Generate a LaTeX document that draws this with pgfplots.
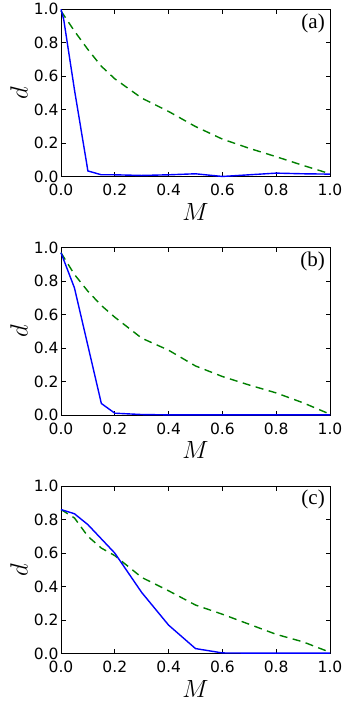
\documentclass[border=0pt]{standalone}
\usepackage{fontspec}
\setmainfont{Liberation Serif}
\newfontfamily\dejavu{DejaVu Sans}
\usepackage{pgfplots}
\pgfplotsset{compat=1.18}
\definecolor{mplblue}{RGB}{0,0,255}
\definecolor{mplgreen}{RGB}{0,128,0}

% data
\pgfplotstableread{
M d
0.00 1.000
0.01 0.940
0.05 0.520
0.10 0.035
0.15 0.012
0.20 0.012
0.30 0.008
0.40 0.012
0.50 0.018
0.60 0.002
0.80 0.022
0.90 0.018
1.00 0.016
}\blueA
\pgfplotstableread{
M d
0.00 0.990
0.05 0.870
0.10 0.760
0.15 0.660
0.20 0.585
0.30 0.470
0.40 0.390
0.50 0.300
0.60 0.225
0.70 0.170
0.80 0.120
0.90 0.068
1.00 0.018
}\greenA
\pgfplotstableread{
M d
0.00 0.970
0.05 0.760
0.10 0.415
0.15 0.070
0.20 0.012
0.30 0.004
0.40 0.002
0.50 0.002
0.60 0.002
0.70 0.002
0.80 0.002
0.90 0.002
1.00 0.002
}\blueB
\pgfplotstableread{
M d
0.00 0.970
0.05 0.840
0.10 0.740
0.15 0.655
0.20 0.585
0.30 0.460
0.40 0.388
0.50 0.294
0.60 0.231
0.70 0.180
0.80 0.133
0.90 0.074
1.00 0.006
}\greenB
\pgfplotstableread{
M d
0.00 0.860
0.05 0.835
0.10 0.770
0.15 0.685
0.20 0.600
0.30 0.365
0.40 0.170
0.50 0.030
0.60 0.004
0.70 0.003
0.80 0.003
0.90 0.003
1.00 0.003
}\blueC
\pgfplotstableread{
M d
0.00 0.860
0.05 0.810
0.10 0.700
0.15 0.630
0.20 0.585
0.30 0.455
0.40 0.375
0.50 0.290
0.60 0.235
0.70 0.175
0.80 0.115
0.90 0.070
1.00 0.008
}\greenC

\pgfplotsset{
  panel/.style={
    scale only axis,
    width=269pt, height=167.5pt,
    xmin=0, xmax=1, ymin=0, ymax=1,
    xtick={0,0.2,...,1.0}, ytick={0,0.2,...,1.0},
    tick align=inside,
    major tick length=4.5pt,
    minor tick num=0,
    axis line style={line width=0.9pt},
    every tick/.style={black, line width=0.8pt},
    /pgf/number format/.cd, fixed, fixed zerofill, precision=1, assume math mode=true,
    /pgfplots/.cd,
    tick label style={font=\dejavu\fontsize{15.5}{15.5}\selectfont},
    xticklabel style={anchor=center, yshift=-13.5pt},
    yticklabel style={anchor=east, xshift=1pt},
    xlabel={$M$}, ylabel={$d$},
    label style={font=\fontsize{25}{25}\selectfont},
    xlabel style={at={(axis description cs:0.5,-0.21)}, anchor=center},
    ylabel style={at={(axis description cs:-0.156,0.5)}, anchor=center},
    clip=false,
  },
  blueline/.style={mplblue, line width=1.4pt},
  greenline/.style={mplgreen, line width=1.4pt, dash pattern=on 8pt off 5.5pt},
}

\begin{document}
\begin{tikzpicture}
\begin{axis}[panel, at={(0pt,0pt)}]
\addplot[greenline] table[x=M, y=d] {\greenA};
\addplot[blueline] table[x=M, y=d] {\blueA};
\node[anchor=north east, font=\fontsize{21}{21}\selectfont, inner sep=0pt] at ([xshift=-5pt, yshift=-4pt]rel axis cs:1,1) {(a)};
\end{axis}

\begin{axis}[panel, at={(0pt,-238.4pt)}]
\addplot[greenline] table[x=M, y=d] {\greenB};
\addplot[blueline] table[x=M, y=d] {\blueB};
\node[anchor=north east, font=\fontsize{21}{21}\selectfont, inner sep=0pt] at ([xshift=-5pt, yshift=-4pt]rel axis cs:1,1) {(b)};
\end{axis}

\begin{axis}[panel, at={(0pt,-476.8pt)}]
\addplot[greenline] table[x=M, y=d] {\greenC};
\addplot[blueline] table[x=M, y=d] {\blueC};
\node[anchor=north east, font=\fontsize{21}{21}\selectfont, inner sep=0pt] at ([xshift=-5pt, yshift=-4pt]rel axis cs:1,1) {(c)};
\end{axis}

\pgfresetboundingbox
\path[use as bounding box] (-61pt,176.8pt) rectangle (285pt,-527.2pt);
\end{tikzpicture}
\end{document}
